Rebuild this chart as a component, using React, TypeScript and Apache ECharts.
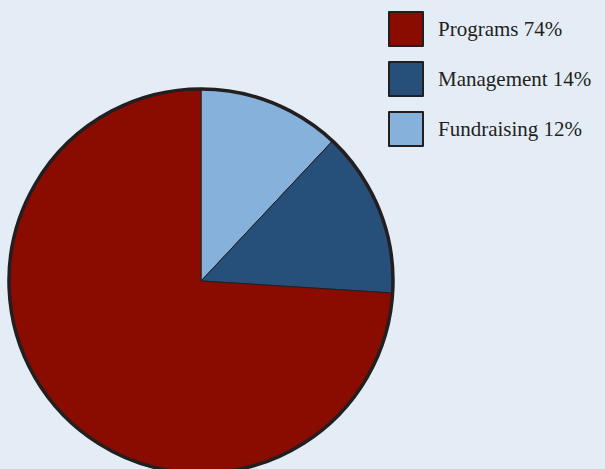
import React, { useEffect, useRef } from "react";
import * as echarts from "echarts";

const categories = ["Fundraising", "Management", "Programs"];
const values = [12, 14, 74];
const legendOrder = ["Programs", "Management", "Fundraising"];
const colors = ["#86b1da", "#264f7a", "#8a0c00"];

export default function App() {
  const ref = useRef<HTMLDivElement>(null);
  useEffect(() => {
    if (!ref.current) return;
    const chart = echarts.init(ref.current, null, { renderer: "svg" });
    const data = categories.map((c, i) => ({
      name: c,
      value: values[i],
      itemStyle: { color: colors[i] },
    }));
    chart.setOption({
      animation: false,
      backgroundColor: "#e4ecf6",
      legend: {
        data: legendOrder,
        orient: "vertical",
        left: 388,
        top: 11,
        padding: 0,
        itemWidth: 34,
        itemHeight: 34,
        itemGap: 14,
        icon: "rect",
        itemStyle: { borderColor: "#231f20", borderWidth: 2 },
        selectedMode: false,
        formatter: (name: string) => {
          const i = categories.indexOf(name);
          return name + " " + values[i] + "%";
        },
        textStyle: {
          fontFamily: "Liberation Serif",
          fontSize: 21,
          color: "#231f20",
          padding: [0, 0, 0, 10],
        },
      },
      series: [
        {
          type: "pie",
          center: [201, 281],
          radius: 192,
          startAngle: 90,
          clockwise: true,
          silent: true,
          label: { show: false },
          labelLine: { show: false },
          itemStyle: { borderColor: "#231f20", borderWidth: 1 },
          data,
        },
        {
          type: "pie",
          center: [201, 281],
          radius: 192,
          silent: true,
          label: { show: false },
          labelLine: { show: false },
          itemStyle: { color: "none", borderColor: "#231f20", borderWidth: 3.5 },
          data: [{ value: 1, name: "outline" }],
          z: 3,
        },
      ],
    });
    return () => chart.dispose();
  }, []);
  return (
    <div
      ref={ref}
      style={{ position: "fixed", left: 0, top: 0, width: 605, height: 469 }}
    />
  );
}
